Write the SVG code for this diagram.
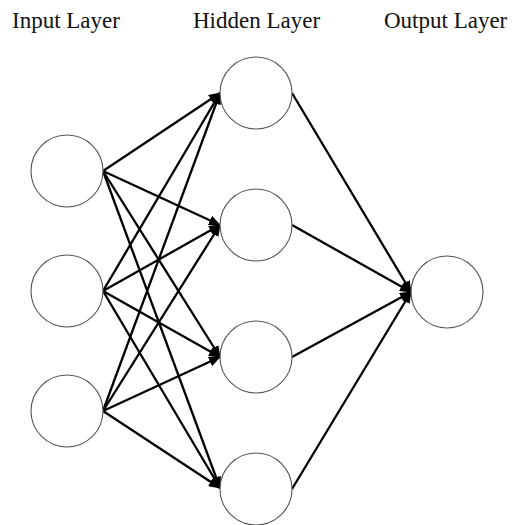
<svg xmlns="http://www.w3.org/2000/svg" width="514" height="525" viewBox="0 0 514 525">
<style>
.node{fill:#fff;stroke:#555;stroke-width:1.1}
.lbl{font-family:"Liberation Serif","Times New Roman",serif;font-size:23px;fill:#111}
.edge{stroke:#000;stroke-width:2.3;fill:none;marker-end:url(#ah)}
</style>
<defs>
<marker id="ah" markerUnits="userSpaceOnUse" viewBox="0 0 12 10" refX="11" refY="5" markerWidth="12" markerHeight="10" orient="auto">
<path d="M0,0 L12,5 L0,10 z" fill="#000"/>
</marker>
</defs>
<g id="labels">
<text class="lbl" x="12" y="28">Input Layer</text>
<text class="lbl" x="193" y="28">Hidden Layer</text>
<text class="lbl" x="384" y="28">Output Layer</text>
</g>
<g id="connectors">
<line class="edge" x1="103" y1="171" x2="220" y2="93"/>
<line class="edge" x1="103" y1="171" x2="220" y2="225"/>
<line class="edge" x1="103" y1="171" x2="220" y2="357"/>
<line class="edge" x1="103" y1="171" x2="220" y2="488"/>
<line class="edge" x1="103" y1="291" x2="220" y2="93"/>
<line class="edge" x1="103" y1="291" x2="220" y2="225"/>
<line class="edge" x1="103" y1="291" x2="220" y2="357"/>
<line class="edge" x1="103" y1="291" x2="220" y2="488"/>
<line class="edge" x1="103" y1="411" x2="220" y2="93"/>
<line class="edge" x1="103" y1="411" x2="220" y2="225"/>
<line class="edge" x1="103" y1="411" x2="220" y2="357"/>
<line class="edge" x1="103" y1="411" x2="220" y2="488"/>
<line class="edge" x1="292" y1="93" x2="411" y2="292"/>
<line class="edge" x1="292" y1="225" x2="411" y2="292"/>
<line class="edge" x1="292" y1="357" x2="411" y2="292"/>
<line class="edge" x1="292" y1="489" x2="411" y2="292"/>
</g>
<g id="in1"><circle class="node" cx="67" cy="171" r="36"/></g>
<g id="in2"><circle class="node" cx="67" cy="291" r="36"/></g>
<g id="in3"><circle class="node" cx="67" cy="411" r="36"/></g>
<g id="h1"><circle class="node" cx="256" cy="93" r="36"/></g>
<g id="h2"><circle class="node" cx="256" cy="225" r="36"/></g>
<g id="h3"><circle class="node" cx="256" cy="357" r="36"/></g>
<g id="h4"><circle class="node" cx="256" cy="489" r="36"/></g>
<g id="out"><circle class="node" cx="447" cy="292" r="36"/></g>
</svg>
